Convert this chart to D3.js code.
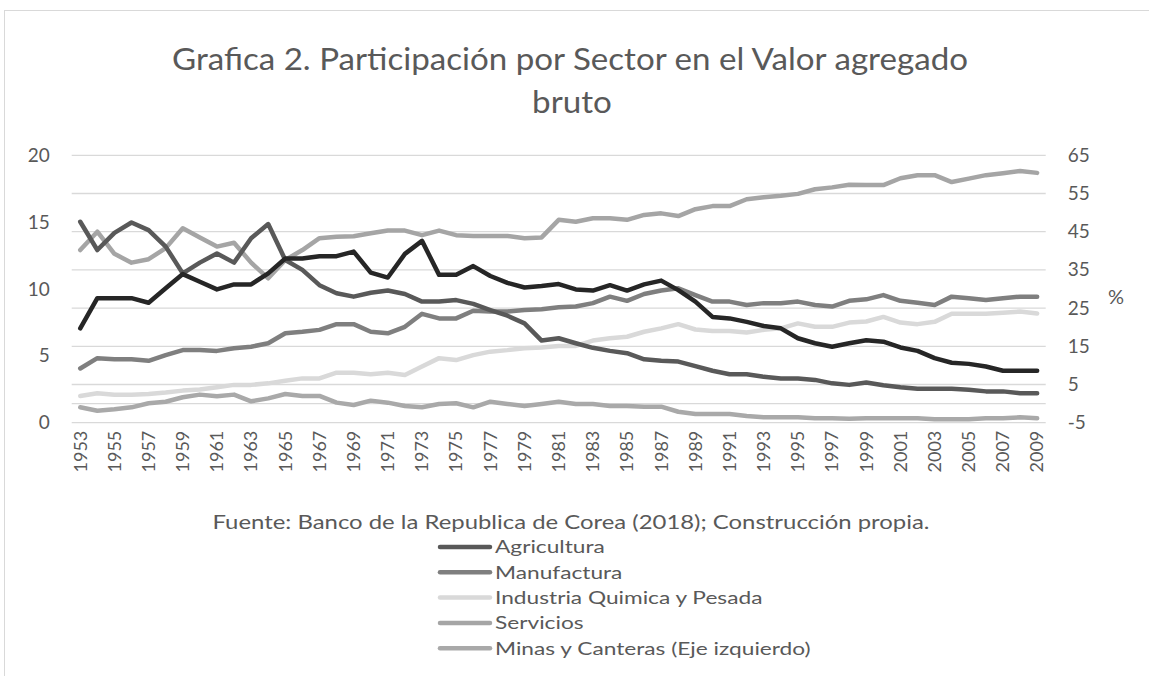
<!DOCTYPE html>
<html>
<head>
<meta charset="utf-8">
<script src="https://cdn.jsdelivr.net/npm/d3@7"></script>
<style>
  html, body { margin: 0; padding: 0; background: #fff; }
  svg { display: block; font-family: Lato, "Open Sans", sans-serif; }
</style>
</head>
<body>
<svg id="chart" width="1149" height="676"></svg>
<script>
const years = d3.range(1953, 2010);
const agricultura = [47.6,40.2,44.7,47.4,45.4,41.1,34.1,36.9,39.3,36.9,43.3,47.0,37.6,35.0,31.0,28.9,28.0,29.0,29.6,28.7,26.7,26.7,27.1,26.1,24.5,23.0,21.0,16.5,17.1,15.8,14.6,13.8,13.2,11.6,11.2,11.0,9.8,8.6,7.7,7.7,7.0,6.6,6.6,6.2,5.3,4.9,5.5,4.8,4.3,3.9,3.9,3.9,3.6,3.2,3.2,2.7,2.7];
const manufactura = [9.2,11.9,11.6,11.6,11.2,12.7,14.0,14.0,13.8,14.5,14.9,15.8,18.4,18.8,19.3,20.8,20.8,18.8,18.4,20.1,23.5,22.3,22.3,24.3,24.1,24.1,24.5,24.7,25.2,25.4,26.3,28.0,26.9,28.7,29.6,30.2,28.4,26.7,26.7,25.8,26.3,26.3,26.7,25.8,25.4,26.9,27.3,28.4,26.9,26.4,25.8,28.0,27.6,27.1,27.6,28.0,28.0];
const industria = [2.0,2.7,2.3,2.3,2.5,2.9,3.4,3.7,4.3,4.9,4.9,5.3,6.0,6.6,6.6,8.1,8.1,7.7,8.1,7.5,9.7,11.9,11.4,12.7,13.6,14.0,14.5,14.7,15.1,15.1,16.5,17.1,17.5,18.8,19.7,20.8,19.4,19.0,19.0,18.6,19.3,19.7,21.0,20.1,20.1,21.2,21.5,22.7,21.2,20.8,21.4,23.5,23.5,23.5,23.8,24.1,23.6];
const servicios = [40.2,45.0,39.2,36.9,37.8,40.7,45.9,43.5,41.1,42.1,36.9,32.8,37.6,40.2,43.3,43.7,43.8,44.6,45.3,45.3,44.1,45.3,44.1,43.9,43.9,43.9,43.3,43.5,48.1,47.6,48.5,48.5,48.1,49.4,49.8,49.1,50.9,51.7,51.7,53.5,54.0,54.4,54.9,56.1,56.6,57.3,57.2,57.2,59.0,59.8,59.8,58.0,58.9,59.8,60.3,60.9,60.4];
const minas = [1.15,0.9,1.0,1.15,1.45,1.57,1.9,2.1,1.97,2.1,1.6,1.82,2.15,2.0,2.0,1.5,1.32,1.65,1.5,1.25,1.15,1.4,1.45,1.15,1.57,1.4,1.25,1.4,1.57,1.4,1.4,1.25,1.25,1.2,1.2,0.82,0.65,0.65,0.65,0.5,0.4,0.4,0.4,0.33,0.33,0.3,0.33,0.33,0.33,0.33,0.25,0.25,0.25,0.33,0.33,0.4,0.33];
const sinLeyenda = [19.7,27.6,27.6,27.6,26.4,30.2,33.9,31.9,29.9,31.2,31.2,34.1,38.0,38.0,38.6,38.6,39.8,34.3,33.0,39.2,42.6,33.7,33.7,36.0,33.4,31.6,30.4,30.8,31.3,29.9,29.6,31.0,29.6,31.2,32.2,29.7,26.7,22.7,22.3,21.4,20.3,19.7,17.1,15.8,14.9,15.8,16.6,16.2,14.7,13.8,11.9,10.7,10.4,9.7,8.6,8.6,8.6];

const leftTicks = [0, 5, 10, 15, 20];
const rightTicks = [-5, 5, 15, 25, 35, 45, 55, 65];
const xTickYears = years.filter((y, i) => i % 2 === 0);

const title1 = "Grafica 2. Participación por Sector en el Valor agregado";
const title2 = "bruto";
const fuente = "Fuente: Banco de la Republica de Corea (2018); Construcción propia.";
const legendNames = ["Agricultura", "Manufactura", "Industria Quimica y Pesada", "Servicios", "Minas y Canteras (Eje izquierdo)"];

const series = [
  { name: "Minas y Canteras (Eje izquierdo)", values: minas, axis: "left", color: "#a9a9a9" },
  { name: "Servicios", values: servicios, axis: "right", color: "#a5a5a5" },
  { name: "Industria Quimica y Pesada", values: industria, axis: "right", color: "#d9d9d9" },
  { name: "Manufactura", values: manufactura, axis: "right", color: "#7f7f7f" },
  { name: "Agricultura", values: agricultura, axis: "right", color: "#595959" },
  { name: "", values: sinLeyenda, axis: "right", color: "#262626" }
];

const svg = d3.select("#chart");
const textColor = "#595959";
const gridColor = "#d9d9d9";
const FONT = "Lato, 'Open Sans', sans-serif";

// stretch horizontal text to the reference's wider glyph proportions
function stretch(sel, k) {
  sel.each(function () {
    const w = this.getComputedTextLength();
    d3.select(this).attr("textLength", w * k).attr("lengthAdjust", "spacingAndGlyphs");
  });
}

// chart border
svg.append("rect").attr("x", 4.5).attr("y", 10.5).attr("width", 1200).attr("height", 700)
  .attr("fill", "none").attr("stroke", gridColor).attr("stroke-width", 1);

const plotL = 71.7, plotR = 1045.7, plotT = 155.3, plotB = 422.7;
const x = d3.scaleBand().domain(years).range([plotL, plotR]);
const cx = d => x(d) + x.bandwidth() / 2;
const yL = d3.scaleLinear().domain([0, 20]).range([plotB, plotT]);
const yR = d3.scaleLinear().domain([-5, 65]).range([plotB, plotT]);

// gridlines (right axis ticks) + line at 0 of secondary
const gridVals = rightTicks.concat([0]);
svg.append("g").selectAll("line").data(gridVals).join("line")
  .attr("x1", plotL).attr("x2", plotR)
  .attr("y1", d => yR(d)).attr("y2", d => yR(d))
  .attr("stroke", gridColor).attr("stroke-width", 1.3);

// left axis
const gL = svg.append("g").attr("transform", `translate(${plotL - 22},0)`)
  .call(d3.axisLeft(yL).tickValues(leftTicks).tickSize(0).tickPadding(0).tickFormat(d => String(d)));
gL.select(".domain").remove();
gL.selectAll("text").attr("fill", textColor).style("font-size", "19px").style("font-family", FONT);

// right axis
const gR = svg.append("g").attr("transform", `translate(${plotR + 22},0)`)
  .call(d3.axisRight(yR).tickValues(rightTicks).tickSize(0).tickPadding(0).tickFormat(d => String(d)));
gR.select(".domain").remove();
gR.selectAll("text").attr("fill", textColor).style("font-size", "19px").style("font-family", FONT);

svg.append("text").attr("x", 1116).attr("y", 297).attr("text-anchor", "middle").attr("dy", "0.35em")
  .attr("fill", textColor).style("font-size", "20px").text("%");

// x axis
const gX = svg.append("g").attr("transform", `translate(0,${plotB})`)
  .call(d3.axisBottom(x).tickValues(xTickYears).tickSize(0).tickPadding(0));
gX.select(".domain").remove();
gX.selectAll("text")
  .attr("fill", textColor).style("font-size", "18px").style("font-family", FONT)
  .attr("text-anchor", "end").attr("transform", "rotate(-90)")
  .attr("x", -8).attr("y", 0).attr("dy", "0.35em");

// lines
const lineFor = s => d3.line()
  .x((d, i) => cx(years[i]))
  .y(d => (s.axis === "left" ? yL(d) : yR(d)));
svg.append("g").selectAll("path").data(series).join("path")
  .attr("d", s => lineFor(s)(s.values))
  .attr("fill", "none").attr("stroke", s => s.color)
  .attr("stroke-width", 4.5).attr("stroke-linejoin", "round").attr("stroke-linecap", "round");

// title
svg.append("text").attr("x", 570).attr("y", 70).attr("text-anchor", "middle")
  .attr("fill", textColor).style("font-size", "31px").text(title1)
  .attr("textLength", 796).attr("lengthAdjust", "spacingAndGlyphs");
svg.append("text").attr("x", 572).attr("y", 113).attr("text-anchor", "middle")
  .attr("fill", textColor).style("font-size", "31px").text(title2)
  .call(stretch, 1.07);

// source
svg.append("text").attr("x", 571).attr("y", 529).attr("text-anchor", "middle")
  .attr("fill", textColor).style("font-size", "19px").text(fuente)
  .attr("textLength", 717).attr("lengthAdjust", "spacingAndGlyphs");

// legend
const legendColors = { };
series.forEach(s => { if (s.name) legendColors[s.name] = s.color; });
const lg = svg.append("g");
legendNames.forEach((n, i) => {
  const yy = 547 + i * 25.3;
  lg.append("line").attr("x1", 440).attr("x2", 490).attr("y1", yy).attr("y2", yy)
    .attr("stroke", legendColors[n]).attr("stroke-width", 4.5).attr("stroke-linecap", "round");
  lg.append("text").attr("x", 495).attr("y", yy).attr("dy", "0.35em")
    .attr("fill", textColor).style("font-size", "18px").text(n)
    .call(stretch, 1.26);
});
</script>
</body>
</html>
